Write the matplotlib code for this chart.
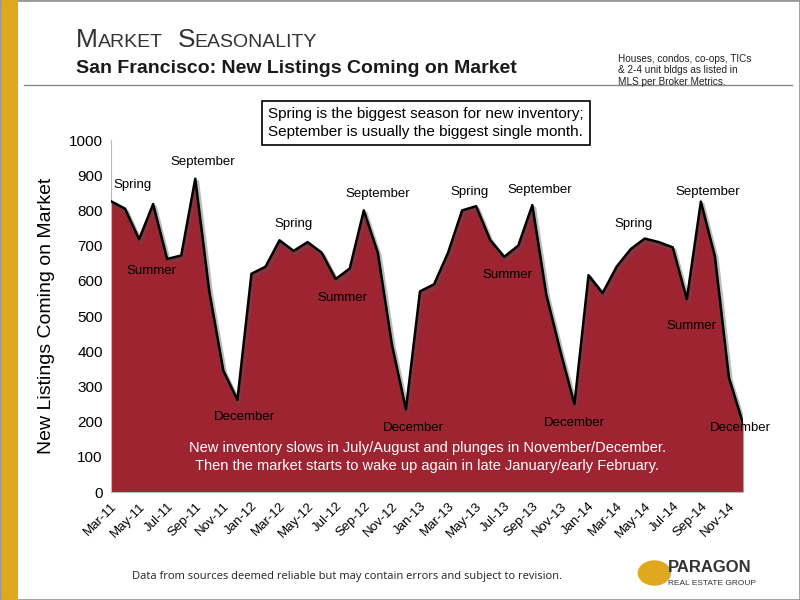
import matplotlib
matplotlib.use("Agg")
import matplotlib.pyplot as plt
import numpy as np
from matplotlib.patches import Rectangle

months = ["Mar-11","Apr-11","May-11","Jun-11","Jul-11","Aug-11","Sep-11","Oct-11","Nov-11","Dec-11",
          "Jan-12","Feb-12","Mar-12","Apr-12","May-12","Jun-12","Jul-12","Aug-12","Sep-12","Oct-12","Nov-12","Dec-12",
          "Jan-13","Feb-13","Mar-13","Apr-13","May-13","Jun-13","Jul-13","Aug-13","Sep-13","Oct-13","Nov-13","Dec-13",
          "Jan-14","Feb-14","Mar-14","Apr-14","May-14","Jun-14","Jul-14","Aug-14","Sep-14","Oct-14","Nov-14","Dec-14"]
listings = [826,805,718,818,662,672,890,570,345,262,
            620,640,715,685,710,680,605,635,800,680,420,235,
            570,590,680,800,812,716,668,700,815,560,400,250,
            616,565,640,690,720,710,695,548,825,670,325,195]

annotations = [("Spring",1.5,855),("Summer",2.9,610),("September",6.5,920),("December",9.5,195),
               ("Spring",13.0,745),("Summer",16.5,535),("September",19.0,830),("December",21.5,165),
               ("Spring",25.5,835),("Summer",28.2,600),("September",30.5,840),("December",33.0,180),
               ("Spring",37.2,745),("Summer",41.3,455),("September",42.5,835),("December",44.8,165)]

fig = plt.figure(figsize=(8,6), dpi=100)
fig.patch.set_facecolor("white")
fig.add_artist(Rectangle((0,0),1,1,transform=fig.transFigure,fill=False,ec="#999999",lw=2))
fig.add_artist(Rectangle((0.003,0.0),0.02,1,transform=fig.transFigure,color="#e0a81e",lw=0))
fig.add_artist(plt.Line2D([0.03,0.99],[0.858,0.858],transform=fig.transFigure,color="#888888",lw=1))

fig.text(0.095,0.922,"M A R K E T   S E A S O N A L I T Y", fontsize=1, alpha=0)
fig.text(0.095,0.922,"M", fontsize=19, color="#333333", family="Liberation Sans")
fig.text(0.123,0.922,"ARKET", fontsize=14, color="#333333", family="Liberation Sans")
fig.text(0.222,0.922,"S", fontsize=19, color="#333333", family="Liberation Sans")
fig.text(0.243,0.922,"EASONALITY", fontsize=14, color="#333333", family="Liberation Sans")
fig.text(0.095,0.878,"San Francisco: New Listings Coming on Market", fontsize=14, weight="bold",
         color="#1a1a1a", family="Liberation Sans")
fig.text(0.773,0.855,"Houses, condos, co-ops, TICs\n& 2-4 unit bldgs as listed in\nMLS per Broker Metrics.",
         fontsize=7.2, color="#222222", family="Liberation Sans", va="bottom", linespacing=1.2)
fig.text(0.165,0.035,"Data from sources deemed reliable but may contain errors and subject to revision.",
         fontsize=8, color="#222222", family="Open Sans")
fig.text(0.835,0.047,"PARAGON", fontsize=12, color="#333333", family="Liberation Sans", weight="bold")
fig.text(0.835,0.025,"REAL ESTATE GROUP", fontsize=6, color="#333333", family="Liberation Sans")
fig.add_artist(plt.Circle((0.818,0.045),0.02,transform=fig.transFigure,color="#e0a81e"))

ax = fig.add_axes([111/800, 1-492/600, (743-111)/800, (492-140)/600])
x = np.arange(len(months))
ax.fill_between(x, listings, 0, color="#9e2431", lw=0, zorder=2)
ax.plot(x+0.15, np.array(listings)-8, color="#555555", lw=2.5, alpha=0.4, zorder=2)
ax.plot(x, listings, color="black", lw=1.8, zorder=3)
ax.set_xlim(0, len(months)-1)
ax.set_ylim(0, 1000)
ax.set_yticks(range(0,1001,100))
ax.set_xticks(x[::2])
ax.set_xticklabels(months[::2], rotation=45, ha="right", rotation_mode="anchor", fontsize=9.5,
                   family="Liberation Sans")
for lab in ax.get_yticklabels():
    lab.set_family("Liberation Sans"); lab.set_fontsize(11)
ax.tick_params(length=0, pad=6)
ax.set_facecolor("none")
for s in ["top","right"]:
    ax.spines[s].set_visible(False)
ax.spines["left"].set_color("#bbbbbb")
ax.spines["bottom"].set_color("#bbbbbb")
ax.set_ylabel("New Listings Coming on Market", fontsize=14, family="Liberation Sans", labelpad=10)

for t, xi, yi in annotations:
    ax.text(xi, yi, t, ha="center", va="bottom", fontsize=9.5, family="Liberation Sans", zorder=4)

ax.text(22.5, 100, "New inventory slows in July/August and plunges in November/December.\nThen the market starts to wake up again in late January/early February.",
        ha="center", va="center", color="white", fontsize=10.5, family="Liberation Sans", zorder=4, linespacing=1.4)

fig.text(0.335, 0.795, "Spring is the biggest season for new inventory;\nSeptember is usually the biggest single month.",
         ha="left", va="center", fontsize=11, family="Liberation Sans", linespacing=1.3,
         bbox=dict(boxstyle="square,pad=0.4", fc="white", ec="black", lw=1.2))

fig.savefig("out.png", dpi=100)
